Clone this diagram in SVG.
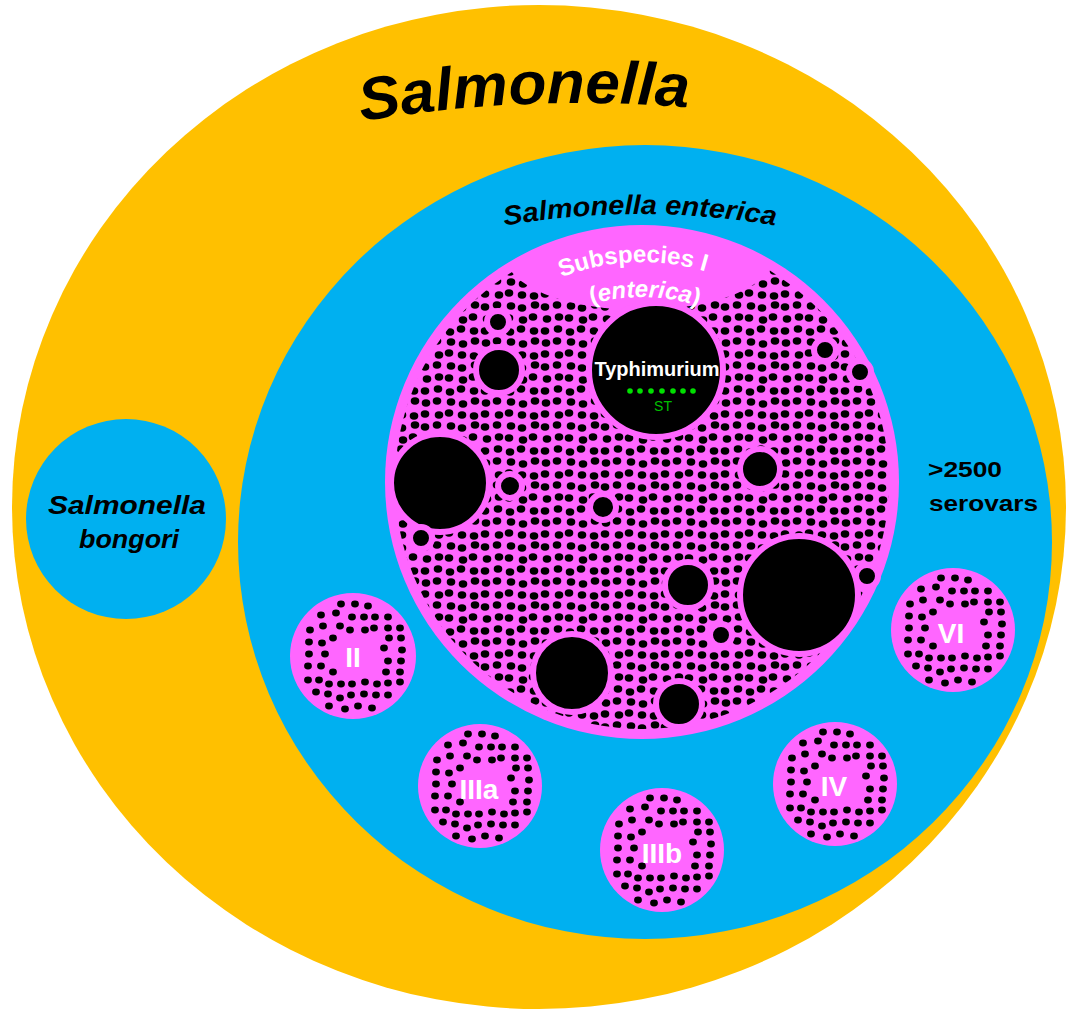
<svg xmlns="http://www.w3.org/2000/svg" width="1068" height="1012" viewBox="0 0 1068 1012">
<style>
.or{fill:#FFC000}
.bl{fill:#00B0F0}
.pk{fill:#FF66FF}
.hole{fill:#000;stroke:#FF66FF;stroke-width:6}
.lbl{font-family:"Liberation Sans",Arial,sans-serif;font-weight:bold;fill:#fff;font-size:28px;text-anchor:middle}
.bi{font-family:"Liberation Sans",Arial,sans-serif;font-weight:bold;font-style:italic;fill:#000}
.b{font-family:"Liberation Sans",Arial,sans-serif;font-weight:bold;fill:#000}
.d{fill:#000}
</style>
<defs>
<pattern id="dots" x="0" y="0" width="60" height="60" patternUnits="userSpaceOnUse">
<g class="d">
<ellipse cx="5" cy="7" rx="4.3" ry="3.7"/><ellipse cx="17" cy="5" rx="4.3" ry="3.7"/><ellipse cx="31" cy="6" rx="4.3" ry="3.7"/><ellipse cx="42" cy="8" rx="4.3" ry="3.7"/><ellipse cx="55" cy="5" rx="4.3" ry="3.7"/>
<ellipse cx="7" cy="19" rx="4.3" ry="3.7"/><ellipse cx="19" cy="17" rx="4.3" ry="3.7"/><ellipse cx="29" cy="18" rx="4.3" ry="3.7"/><ellipse cx="43" cy="20" rx="4.3" ry="3.7"/><ellipse cx="53" cy="17" rx="4.3" ry="3.7"/>
<ellipse cx="5" cy="31" rx="4.3" ry="3.7"/><ellipse cx="18" cy="29" rx="4.3" ry="3.7"/><ellipse cx="30" cy="32" rx="4.3" ry="3.7"/><ellipse cx="41" cy="29" rx="4.3" ry="3.7"/><ellipse cx="54" cy="31" rx="4.3" ry="3.7"/>
<ellipse cx="6" cy="43" rx="4.3" ry="3.7"/><ellipse cx="17" cy="41" rx="4.3" ry="3.7"/><ellipse cx="31" cy="42" rx="4.3" ry="3.7"/><ellipse cx="43" cy="44" rx="4.3" ry="3.7"/><ellipse cx="55" cy="41" rx="4.3" ry="3.7"/>
<ellipse cx="5" cy="54" rx="4.3" ry="3.7"/><ellipse cx="19" cy="55" rx="4.3" ry="3.7"/><ellipse cx="29" cy="53" rx="4.3" ry="3.7"/><ellipse cx="42" cy="55" rx="4.3" ry="3.7"/><ellipse cx="54" cy="56" rx="4.3" ry="3.7"/>
</g>
</pattern>
<mask id="fieldMask" maskUnits="userSpaceOnUse" x="380" y="220" width="520" height="530">
<circle cx="642" cy="482" r="247" fill="#fff"/>
<ellipse cx="640" cy="255" rx="135" ry="55" fill="#000"/>
</mask>
<g id="ring" class="d">
<ellipse cx="-12" cy="-52" rx="3.9" ry="3.4"/><ellipse cx="2" cy="-52" rx="3.9" ry="3.4"/><ellipse cx="15" cy="-50" rx="3.9" ry="3.4"/>
<ellipse cx="-32" cy="-41" rx="3.9" ry="3.4"/><ellipse cx="-17" cy="-43" rx="3.9" ry="3.4"/><ellipse cx="-1" cy="-39" rx="3.9" ry="3.4"/><ellipse cx="11" cy="-39" rx="3.9" ry="3.4"/><ellipse cx="22" cy="-39" rx="3.9" ry="3.4"/><ellipse cx="35" cy="-39" rx="3.9" ry="3.4"/>
<ellipse cx="-43" cy="-26" rx="3.9" ry="3.4"/><ellipse cx="-30" cy="-30" rx="3.9" ry="3.4"/><ellipse cx="-13" cy="-30" rx="3.9" ry="3.4"/><ellipse cx="-3" cy="-26" rx="3.9" ry="3.4"/><ellipse cx="12" cy="-26" rx="3.9" ry="3.4"/><ellipse cx="21" cy="-28" rx="3.9" ry="3.4"/><ellipse cx="35" cy="-28" rx="3.9" ry="3.4"/><ellipse cx="47" cy="-28" rx="3.9" ry="3.4"/>
<ellipse cx="-20" cy="-18" rx="3.9" ry="3.4"/><ellipse cx="36" cy="-18" rx="3.9" ry="3.4"/><ellipse cx="48" cy="-18" rx="3.9" ry="3.4"/>
<ellipse cx="-44" cy="-14" rx="3.9" ry="3.4"/><ellipse cx="-31" cy="-13" rx="3.9" ry="3.4"/><ellipse cx="31" cy="-8" rx="3.9" ry="3.4"/><ellipse cx="49" cy="-6" rx="3.9" ry="3.4"/>
<ellipse cx="-44" cy="-2" rx="3.9" ry="3.4"/><ellipse cx="-28" cy="-2" rx="3.9" ry="3.4"/><ellipse cx="35" cy="5" rx="3.9" ry="3.4"/><ellipse cx="48" cy="5" rx="3.9" ry="3.4"/>
<ellipse cx="-45" cy="10" rx="3.9" ry="3.4"/><ellipse cx="-32" cy="10" rx="3.9" ry="3.4"/><ellipse cx="-20" cy="16" rx="3.9" ry="3.4"/><ellipse cx="33" cy="16" rx="3.9" ry="3.4"/><ellipse cx="47" cy="16" rx="3.9" ry="3.4"/>
<ellipse cx="-45" cy="24" rx="3.9" ry="3.4"/><ellipse cx="-34" cy="24" rx="3.9" ry="3.4"/><ellipse cx="-24" cy="28" rx="3.9" ry="3.4"/><ellipse cx="-12" cy="28" rx="3.9" ry="3.4"/><ellipse cx="-1" cy="28" rx="3.9" ry="3.4"/><ellipse cx="12" cy="26" rx="3.9" ry="3.4"/><ellipse cx="24" cy="28" rx="3.9" ry="3.4"/><ellipse cx="35" cy="27" rx="3.9" ry="3.4"/><ellipse cx="47" cy="26" rx="3.9" ry="3.4"/>
<ellipse cx="-37" cy="36" rx="3.9" ry="3.4"/><ellipse cx="-25" cy="38" rx="3.9" ry="3.4"/><ellipse cx="-13" cy="42" rx="3.9" ry="3.4"/><ellipse cx="-2" cy="39" rx="3.9" ry="3.4"/><ellipse cx="11" cy="38" rx="3.9" ry="3.4"/><ellipse cx="23" cy="39" rx="3.9" ry="3.4"/><ellipse cx="35" cy="39" rx="3.9" ry="3.4"/>
<ellipse cx="-24" cy="50" rx="3.9" ry="3.4"/><ellipse cx="-8" cy="53" rx="3.9" ry="3.4"/><ellipse cx="5" cy="50" rx="3.9" ry="3.4"/><ellipse cx="19" cy="52" rx="3.9" ry="3.4"/>
</g>
<path id="arcSal" d="M340,125.3 A1300,1300 0 0 1 720,110.6"/>
<path id="arcEnt" d="M480,230.2 A800,800 0 0 1 800,230.2"/>
<path id="arcSub1" d="M422,482 A220,220 0 0 1 862,482"/>
<path id="arcSub2" d="M457,482 A185,185 0 0 1 827,482"/>
</defs>

<g id="genus">
<ellipse class="or" cx="539" cy="507" rx="527" ry="502"/>
<text class="bi" font-size="60"><textPath href="#arcSal" startOffset="22" textLength="328" lengthAdjust="spacingAndGlyphs">Salmonella</textPath></text>
</g>

<g id="bongori">
<circle class="bl" cx="126" cy="519" r="100"/>
<text class="bi" font-size="26" x="127" y="514" text-anchor="middle" textLength="158" lengthAdjust="spacingAndGlyphs">Salmonella</text>
<text class="bi" font-size="26" x="129" y="548" text-anchor="middle" textLength="100" lengthAdjust="spacingAndGlyphs">bongori</text>
</g>

<g id="enterica">
<ellipse class="bl" cx="645" cy="542" rx="407" ry="397"/>
<text class="bi" font-size="27"><textPath href="#arcEnt" startOffset="50%" text-anchor="middle" textLength="272" lengthAdjust="spacingAndGlyphs">Salmonella enterica</textPath></text>
<text class="b" font-size="22" x="928" y="477" textLength="74" lengthAdjust="spacingAndGlyphs">&gt;2500</text>
<text class="b" font-size="22" x="929" y="511" textLength="109" lengthAdjust="spacingAndGlyphs">serovars</text>
</g>

<g id="subspI">
<circle class="pk" cx="642" cy="482" r="257"/>
<rect x="380" y="220" width="520" height="530" fill="url(#dots)" mask="url(#fieldMask)"/>
<text font-family="Liberation Sans, Arial, sans-serif" font-weight="bold" font-size="24" fill="#fff"><textPath href="#arcSub1" startOffset="48.7%" text-anchor="middle">Subspecies I</textPath></text>
<text font-family="Liberation Sans, Arial, sans-serif" font-weight="bold" font-size="24" fill="#fff"><textPath href="#arcSub2" startOffset="50.5%" text-anchor="middle">(<tspan font-style="italic">enterica</tspan>)</textPath></text>
<circle class="hole" cx="440" cy="483" r="49"/>
<circle class="hole" cx="799" cy="595" r="59"/>
<circle class="hole" cx="572" cy="673" r="39"/>
<circle class="hole" cx="688" cy="585" r="23"/>
<circle class="hole" cx="679" cy="704" r="23"/>
<circle class="hole" cx="499" cy="370" r="23"/>
<circle class="hole" cx="760" cy="469" r="20"/>
<circle class="hole" cx="498" cy="322" r="11"/>
<circle class="hole" cx="825" cy="350" r="11"/>
<circle class="hole" cx="860" cy="372" r="11"/>
<circle class="hole" cx="510" cy="486" r="12"/>
<circle class="hole" cx="603" cy="507" r="13"/>
<circle class="hole" cx="421" cy="538" r="11"/>
<circle class="hole" cx="721" cy="635" r="11"/>
<circle class="hole" cx="867" cy="576" r="11"/>
</g>

<g id="typhimurium">
<circle class="hole" cx="656" cy="370" r="67"/>
<text x="657" y="376" font-family="Liberation Sans, Arial, sans-serif" font-weight="bold" font-size="20" fill="#fff" text-anchor="middle">Typhimurium</text>
<g fill="#00E000">
<circle cx="630" cy="391" r="2.8"/><circle cx="640" cy="391" r="2.8"/><circle cx="651" cy="391" r="2.8"/><circle cx="662" cy="391" r="2.8"/><circle cx="673" cy="391" r="2.8"/><circle cx="683" cy="391" r="2.8"/><circle cx="693" cy="391" r="2.8"/>
</g>
<text x="663" y="411" font-family="Liberation Sans, Arial, sans-serif" font-size="14" fill="#00C000" text-anchor="middle">ST</text>
</g>

<g id="subspII">
<circle class="pk" cx="353" cy="656" r="63"/>
<use href="#ring" x="353" y="656"/>
<text class="lbl" x="353" y="667">II</text>
</g>
<g id="subspIIIa">
<circle class="pk" cx="480" cy="786" r="62"/>
<use href="#ring" x="480" y="786"/>
<text class="lbl" x="479" y="799">IIIa</text>
</g>
<g id="subspIIIb">
<circle class="pk" cx="662" cy="850" r="62"/>
<use href="#ring" x="662" y="850"/>
<text class="lbl" x="662" y="863">IIIb</text>
</g>
<g id="subspIV">
<circle class="pk" cx="835" cy="784" r="62"/>
<use href="#ring" x="835" y="784"/>
<text class="lbl" x="834" y="796">IV</text>
</g>
<g id="subspVI">
<circle class="pk" cx="953" cy="630" r="62"/>
<use href="#ring" x="953" y="630"/>
<text class="lbl" x="951" y="643">VI</text>
</g>
<g id="connectors"/>
</svg>
